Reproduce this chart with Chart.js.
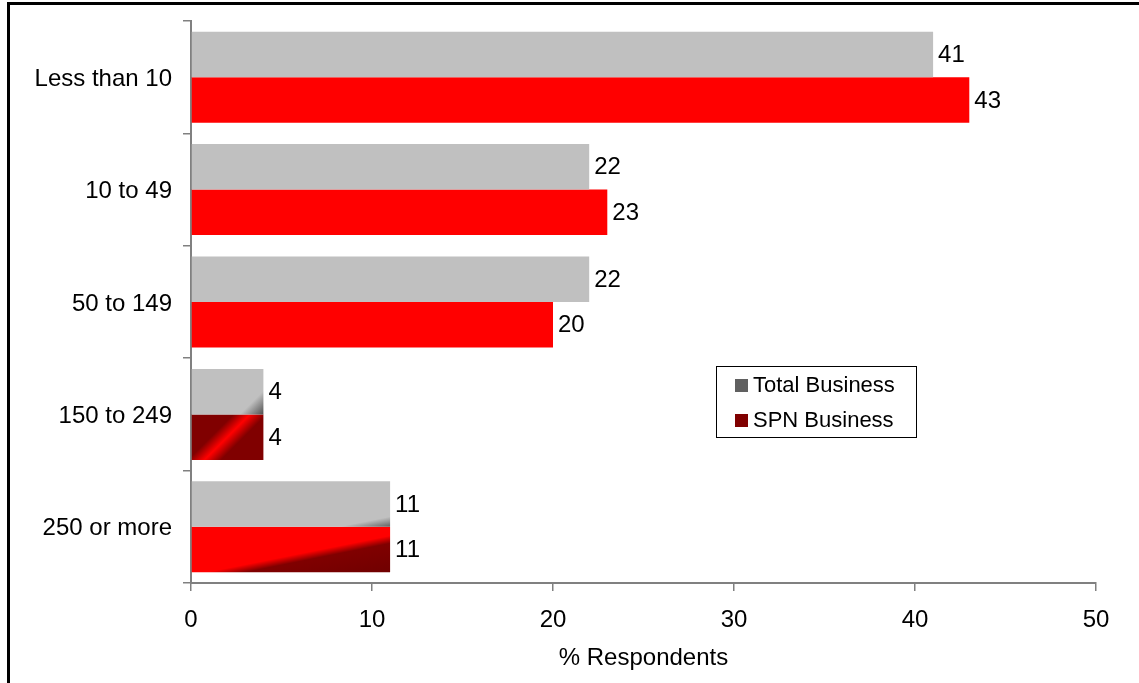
<!DOCTYPE html>
<html>
<head>
<meta charset="utf-8">
<script src="https://cdn.jsdelivr.net/npm/chart.js@4/dist/chart.umd.min.js"></script>
<style>
  body { margin: 0; background: #fff; }
  #wrap { width: 1139px; height: 683px; }
</style>
</head>
<body>
<div id="wrap"><canvas id="sizeChart" width="1139" height="683"></canvas></div>
<script>
const categories = ['Less than 10', '10 to 49', '50 to 149', '150 to 249', '250 or more'];
const totalBusiness = [41, 22, 22, 4, 11];
const spnBusiness = [43, 23, 20, 4, 11];
const xTicks = [0, 10, 20, 30, 40, 50];

const FONT = 'Arial, "Liberation Sans", sans-serif';

// odd shaded fills on the two small bars, as in the original export
// direction is a vector relative to bar box, stops are [pos, colour]
const shading = {
    0: {
        3: { dir: [1, 1], stops: [[0, '#c0c0c0'], [0.8, '#c0c0c0'], [1, '#505050']] },
        4: { dir: [0.2, 1], stops: [[0, '#c0c0c0'], [0.88, '#c0c0c0'], [1, '#606060']] }
    },
    1: {
        3: { dir: [1, 1], stops: [[0, '#800000'], [0.36, '#800000'], [0.5, '#ff0000'], [0.64, '#800000'], [1, '#800000']] },
        4: { dir: [0.2, 1], stops: [[0, '#ff0000'], [0.57, '#ff0000'], [0.66, '#800000'], [1, '#700000']] }
    }
};

function barFill(c, flat) {
    const s = shading[c.datasetIndex] && shading[c.datasetIndex][c.dataIndex];
    const chart = c.chart;
    if (!s || !chart.scales.x || !chart.scales.y) return flat;
    const xs = chart.scales.x, ys = chart.scales.y;
    const v = c.dataset.data[c.dataIndex];
    const left = xs.getPixelForValue(0), right = xs.getPixelForValue(v);
    const band = ys.height / categories.length;
    const h = band * 0.81 / 2;
    const mid = ys.getPixelForValue(c.dataIndex);
    const top = c.datasetIndex === 0 ? mid - h : mid;
    const w = right - left;
    // project the far corner on the direction to get gradient length
    const dx = s.dir[0], dy = s.dir[1];
    const len = (w * dx + h * dy) / (dx * dx + dy * dy);
    const g = chart.ctx.createLinearGradient(left, top, left + dx * len, top + dy * len);
    s.stops.forEach(st => g.addColorStop(st[0], st[1]));
    return g;
}

const valueLabels = {
    id: 'valueLabels',
    afterDatasetsDraw(chart) {
        const ctx = chart.ctx;
        ctx.save();
        ctx.font = '24px ' + FONT;
        ctx.fillStyle = '#000';
        ctx.textBaseline = 'middle';
        chart.data.datasets.forEach((ds, i) => {
            chart.getDatasetMeta(i).data.forEach((bar, j) => {
                ctx.fillText(ds.data[j], bar.x + 5, bar.y + 1);
            });
        });
        ctx.restore();
    }
};

const frameAndLegend = {
    id: 'frameAndLegend',
    afterDraw(chart) {
        const ctx = chart.ctx;
        ctx.save();
        // outer frame
        ctx.strokeStyle = '#000';
        ctx.lineWidth = 3;
        ctx.beginPath();
        ctx.moveTo(8.5, 683);
        ctx.lineTo(8.5, 3.5);
        ctx.lineTo(1139, 3.5);
        ctx.stroke();

        // legend box
        ctx.lineWidth = 1;
        ctx.strokeStyle = '#000';
        ctx.fillStyle = '#fff';
        ctx.fillRect(716, 366, 200, 71);
        ctx.strokeRect(716.5, 366.5, 200, 71);
        const items = [['Total Business', '#606060'], ['SPN Business', '#800000']];
        ctx.font = '22px ' + FONT;
        ctx.textBaseline = 'middle';
        items.forEach((it, k) => {
            const y = 385 + k * 35;
            ctx.fillStyle = it[1];
            ctx.fillRect(735, y - 6, 13, 13);
            ctx.fillStyle = '#000';
            ctx.fillText(it[0], 753, y + 1);
        });
        ctx.restore();
    }
};

new Chart(document.getElementById('sizeChart'), {
    type: 'bar',
    data: {
        labels: categories,
        datasets: [{
            label: 'Total Business',
            data: totalBusiness,
            backgroundColor: c => barFill(c, '#c0c0c0'),
            categoryPercentage: 0.81,
            barPercentage: 1
        }, {
            label: 'SPN Business',
            data: spnBusiness,
            backgroundColor: c => barFill(c, '#ff0000'),
            categoryPercentage: 0.81,
            barPercentage: 1
        }]
    },
    options: {
        indexAxis: 'y',
        responsive: false,
        animation: false,
        layout: { padding: { left: 0, right: 43, top: 21, bottom: 0 } },
        plugins: {
            legend: { display: false },
            tooltip: { enabled: false }
        },
        scales: {
            x: {
                min: 0,
                max: 50,
                afterBuildTicks: s => { s.ticks = xTicks.map(v => ({ value: v })); },
                afterFit: s => { s.height = 100; s.paddingLeft = 0; s.paddingRight = 0; },
                border: { color: '#808080', width: 2 },
                grid: { drawOnChartArea: false, color: '#808080', tickLength: 8, lineWidth: 1.5 },
                ticks: { color: '#000', font: { family: FONT, size: 24 }, padding: 15 },
                title: {
                    display: true,
                    text: '% Respondents',
                    color: '#000',
                    font: { family: FONT, size: 24 },
                    padding: { top: 4, bottom: 10 }
                }
            },
            y: {
                afterFit: s => { s.width = 191; s.paddingTop = 0; s.paddingBottom = 0; },
                border: { color: '#808080', width: 2 },
                grid: { drawOnChartArea: false, offset: true, color: '#808080', tickLength: 8, lineWidth: 1.5 },
                ticks: { color: '#000', font: { family: FONT, size: 24 }, padding: 11, labelOffset: 2 }
            }
        }
    },
    plugins: [valueLabels, frameAndLegend]
});
</script>
</body>
</html>
